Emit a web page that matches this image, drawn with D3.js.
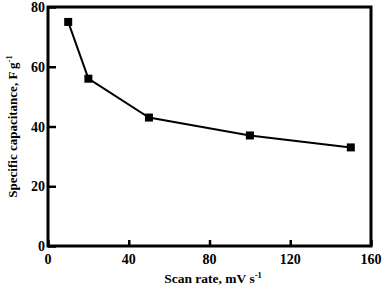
<!DOCTYPE html>
<html><head><meta charset="utf-8">
<script src="https://cdn.jsdelivr.net/npm/d3@7"></script>
<style>
html,body{margin:0;padding:0;background:#fff;}
text{font-family:"Liberation Serif","Times New Roman",serif;font-weight:bold;fill:#000;}
</style></head>
<body>
<svg id="c" width="387" height="288"></svg>
<script>
const scanRate = [10, 20, 50, 100, 150];
const capacitance = [75, 56, 43, 37, 33];
const xTicks = [0, 40, 80, 120, 160];
const yTicks = [0, 20, 40, 60, 80];

const svg = d3.select("#c");
const L = 48, R = 371, T = 7, B = 246;
const x = d3.scaleLinear().domain([0, 160]).range([L, R]);
const y = d3.scaleLinear().domain([0, 80]).range([B, T]);

const xa = svg.append("g").attr("transform", `translate(0,${B})`)
  .call(d3.axisTop(x).tickValues(xTicks).tickSize(6).tickFormat(""));
xa.select(".domain").remove();
xa.selectAll("line").attr("stroke", "#000").attr("stroke-width", 2.5);
svg.append("g").selectAll("text").data(xTicks).join("text")
  .attr("x", d => x(d)).attr("y", 264)
  .attr("text-anchor", "middle").attr("font-size", 14).text(d => d);

const ya = svg.append("g").attr("transform", `translate(${L},0)`)
  .call(d3.axisRight(y).tickValues(yTicks).tickSize(8).tickFormat(""));
ya.select(".domain").remove();
ya.selectAll("line").attr("stroke", "#000").attr("stroke-width", 2.5);
svg.append("g").selectAll("text").data(yTicks).join("text")
  .attr("x", 45).attr("y", d => y(d) + 5)
  .attr("text-anchor", "end").attr("font-size", 14).text(d => d);

svg.append("rect").attr("x", L).attr("y", T).attr("width", R - L).attr("height", B - T)
  .attr("fill", "none").attr("stroke", "#000").attr("stroke-width", 3);

const pts = scanRate.map((d, i) => [d, capacitance[i]]);
svg.append("path").datum(pts)
  .attr("d", d3.line().x(d => x(d[0])).y(d => y(d[1])))
  .attr("fill", "none").attr("stroke", "#000").attr("stroke-width", 2);
svg.append("g").selectAll("rect").data(pts).join("rect")
  .attr("x", d => x(d[0]) - 4).attr("y", d => y(d[1]) - 4)
  .attr("width", 8).attr("height", 8).attr("fill", "#000");

const xt = svg.append("text").attr("x", 213).attr("y", 283)
  .attr("text-anchor", "middle").attr("font-size", 13.5);
xt.append("tspan").text("Scan rate, mV s");
xt.append("tspan").attr("dy", -5).attr("font-size", 8.5).text("-1");

const yt = svg.append("text").attr("transform", `translate(17,${(T + B) / 2}) rotate(-90)`)
  .attr("text-anchor", "middle").attr("font-size", 13);
yt.append("tspan").text("Specific capacitance, F g");
yt.append("tspan").attr("dy", -5).attr("font-size", 8.5).text("-1");
</script>
</body></html>
